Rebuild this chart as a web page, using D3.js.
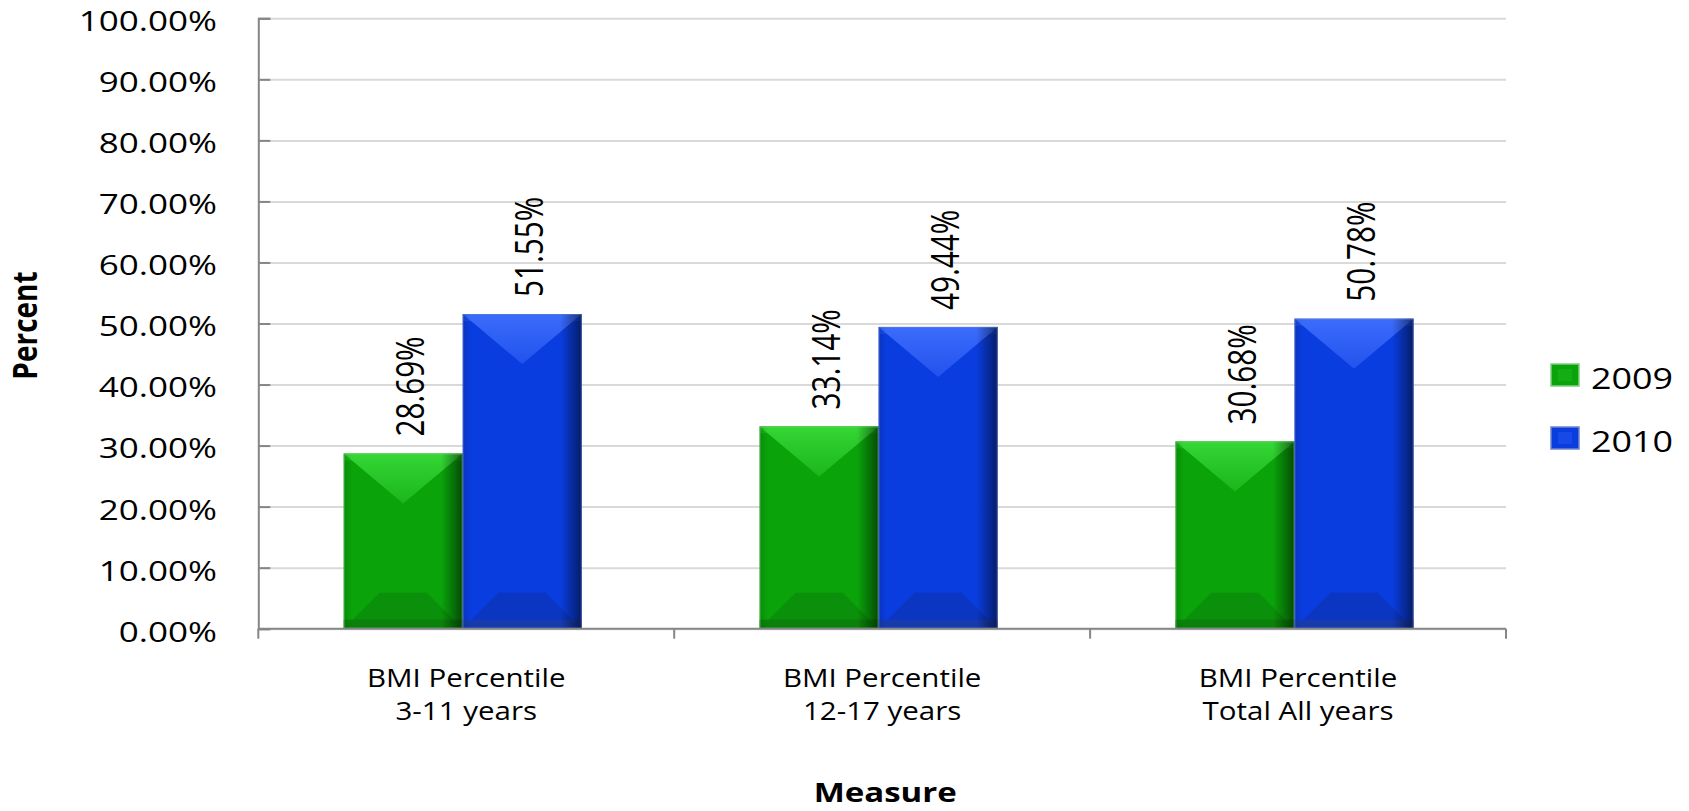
<!DOCTYPE html>
<html><head><meta charset="utf-8">
<script src="https://cdn.jsdelivr.net/npm/d3@7"></script>
<style>
html,body{margin:0;padding:0;background:#fff;}
svg{display:block;font-family:"Open Sans",sans-serif;}
</style>
</head><body>
<svg id="chart" width="1689" height="811"></svg>
<script>
// ---- data ----
const categories = ["BMI Percentile\n3-11 years", "BMI Percentile\n12-17 years", "BMI Percentile\nTotal All years"];
const seriesNames = ["2009", "2010"];
const values2009 = [0.2869, 0.3314, 0.3068];
const values2010 = [0.5155, 0.4944, 0.5078];
const yTicks = [0, 0.1, 0.2, 0.3, 0.4, 0.5, 0.6, 0.7, 0.8, 0.9, 1.0];
const yTitle = "Percent";
const xTitle = "Measure";

// ---- styles ----
const W = 1689, H = 811;
const M = {top: 18.3, left: 258.3, right: 183, bottom: 182.3};
const palette = {
  "2009": {base: "#0aa30a", light: "#35d635", mid: "#1bb61b", low: "#0a900a", strip: "#0a7a0a", edge: "#7fd07f"},
  "2010": {base: "#0a3ddf", light: "#3b6cfc", mid: "#2252ec", low: "#0b36c2", strip: "#1a3da6", edge: "#6f86c8"}
};
const K = 1.25; // horizontal stretch of text seen in the reference

const svg = d3.select("#chart");
const defs = svg.append("defs");

const y = d3.scaleLinear().domain([0, 1]).range([H - M.bottom, M.top]);
const x = d3.scaleBand().domain(categories).range([M.left, W - M.right]).padding(0);
const xs = d3.scaleBand().domain(seriesNames).range([0, x.bandwidth()])
  .paddingInner(0).paddingOuter(0.747).align(0.48);
const fmt = d3.format(".2%");

// gradients
seriesNames.forEach((s, j) => {
  const p = palette[s];
  const gt = defs.append("linearGradient").attr("id", "tri" + j)
    .attr("x1", 0).attr("y1", 0).attr("x2", 0).attr("y2", 1);
  gt.append("stop").attr("offset", 0).attr("stop-color", p.light);
  gt.append("stop").attr("offset", 1).attr("stop-color", p.mid);
});
const ge = defs.append("linearGradient").attr("id", "edge")
  .attr("x1", 0).attr("y1", 0).attr("x2", 1).attr("y2", 0);
[[0, 0.14], [0.07, 0.0], [0.82, 0.0], [0.93, 0.32], [1, 0.55]].forEach(([o, a]) =>
  ge.append("stop").attr("offset", o).attr("stop-color", "#000").attr("stop-opacity", a));

// gridlines
svg.append("g").attr("transform", `translate(${M.left},0)`)
  .call(d3.axisLeft(y).tickValues(yTicks).tickSize(-(W - M.left - M.right)).tickFormat(""))
  .call(g => g.select(".domain").remove())
  .call(g => g.selectAll("line").attr("stroke", "#d9d9d9").attr("stroke-width", 2));

// bars
const bars = [];
categories.forEach((c, i) => {
  bars.push({cat: c, s: seriesNames[0], j: 0, v: values2009[i]});
  bars.push({cat: c, s: seriesNames[1], j: 1, v: values2010[i]});
});
const bw = xs.bandwidth();
const bg = svg.append("g");
bars.forEach(b => {
  const p = palette[b.s];
  const x0 = x(b.cat) + xs(b.s), x1 = x0 + bw;
  const top = y(b.v), base = y(0), h = base - top;
  const g = bg.append("g");
  g.append("rect").attr("x", x0).attr("y", top).attr("width", bw).attr("height", h).attr("fill", p.base);
  const d = Math.min(36, h / 2);
  g.append("polygon").attr("points", [[x0, base], [x1, base], [x1 - d, base - d], [x0 + d, base - d]].join(" "))
    .attr("fill", p.low);
  g.append("rect").attr("x", x0).attr("y", base - 9).attr("width", bw).attr("height", 9).attr("fill", p.strip).attr("opacity", 0.7);
  g.append("polygon").attr("points", [[x0, top], [x1, top], [x0 + bw / 2, top + bw * 0.42]].join(" "))
    .attr("fill", `url(#tri${b.j})`);
  g.append("rect").attr("x", x0).attr("y", top).attr("width", bw).attr("height", 7).attr("fill", p.light).attr("opacity", 0.3);
  g.append("rect").attr("x", x0).attr("y", top).attr("width", bw).attr("height", h).attr("fill", "url(#edge)");
  g.append("rect").attr("x", x0 + 0.5).attr("y", top + 0.5).attr("width", bw - 1).attr("height", h - 1)
    .attr("fill", "none").attr("stroke", p.edge).attr("stroke-opacity", 0.5).attr("stroke-width", 1);
});

// y axis (line, inner ticks, labels)
svg.append("g").attr("transform", `translate(${M.left},0)`)
  .call(d3.axisLeft(y).tickValues(yTicks).tickSize(-12).tickFormat(fmt))
  .call(g => g.select(".domain").attr("stroke", "#868686").attr("stroke-width", 2))
  .call(g => g.selectAll(".tick line").attr("stroke", "#868686").attr("stroke-width", 2))
  .call(g => g.selectAll(".tick text")
    .attr("x", null).attr("dy", null)
    .attr("transform", `translate(-41.3,12.4) scale(${K},1)`)
    .attr("text-anchor", "end").attr("font-size", 28).attr("fill", "#000")
    .attr("font-family", '"Open Sans",sans-serif'));

// x axis baseline and category boundary ticks
const xg = svg.append("g");
xg.append("line").attr("x1", M.left).attr("x2", W - M.right).attr("y1", y(0)).attr("y2", y(0))
  .attr("stroke", "#868686").attr("stroke-width", 2);
const bounds = categories.map(c => x(c)).concat([x(categories[categories.length - 1]) + x.bandwidth()]);
xg.selectAll("line.tk").data(bounds).join("line").attr("class", "tk")
  .attr("x1", d => d).attr("x2", d => d).attr("y1", y(0)).attr("y2", y(0) + 10)
  .attr("stroke", "#868686").attr("stroke-width", 2);

// category labels
categories.forEach(c => {
  const cx = x(c) + x.bandwidth() / 2;
  c.split("\n").forEach((line, li) => {
    svg.append("text").attr("transform", `translate(${cx},${y(0) + 58.3 + li * 33}) scale(1.18,1)`)
      .attr("text-anchor", "middle").attr("font-size", 25).attr("fill", "#000").text(line);
  });
});

// data labels
bars.forEach(b => {
  const cx = x(b.cat) + xs(b.s) + bw / 2;
  svg.append("text")
    .attr("transform", `translate(${cx},${y(b.v) - 17}) scale(1.26,1) rotate(-90)`)
    .attr("dy", 16.4).attr("text-anchor", "start").attr("font-size", 29.7).attr("fill", "#000")
    .text(fmt(b.v));
});

// axis titles
svg.append("text").attr("transform", `translate(36.7,${(y(0) + y(1)) / 2 + 2}) scale(1.19,1) rotate(-90)`)
  .attr("text-anchor", "middle").attr("font-size", 28).attr("font-weight", "bold").attr("fill", "#000").text(yTitle);
svg.append("text").attr("transform", `translate(${(M.left + W - M.right) / 2 + 3},802) scale(1.2,1)`)
  .attr("text-anchor", "middle").attr("font-size", 27.5).attr("font-weight", "bold").attr("fill", "#000").text(xTitle);

// legend
const lg = svg.append("g").attr("transform", "translate(1551,364)");
seriesNames.forEach((s, j) => {
  const p = palette[s];
  const row = lg.append("g").attr("transform", `translate(0,${j * 63})`);
  row.append("rect").attr("width", 28).attr("height", 22).attr("fill", p.base)
    .attr("stroke", p.edge).attr("stroke-width", 1.5);
  row.append("rect").attr("x", 7).attr("y", 5).attr("width", 14).attr("height", 12).attr("fill", p.mid).attr("opacity", 0.6);
  row.append("text").attr("transform", `translate(40,25) scale(1.22,1)`)
    .attr("font-size", 29.4).attr("fill", "#000").text(s);
});
</script>
</body></html>
